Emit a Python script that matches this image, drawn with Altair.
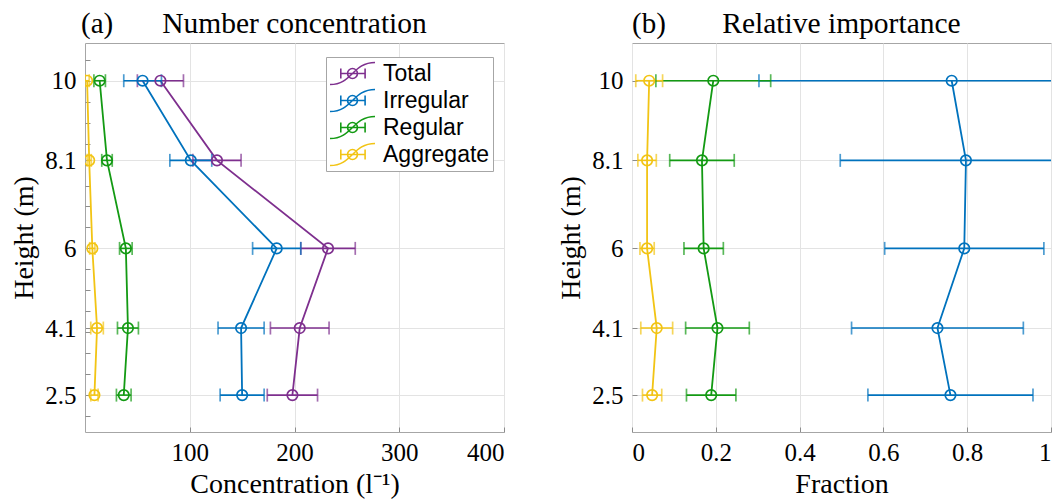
import altair as alt
import pandas as pd

# ---------------- data ----------------
heights = [2.5, 4.1, 6, 8.1, 10]
series = ["Total", "Irregular", "Regular", "Aggregate"]
colors = ["#7E2F8E", "#0072BD", "#139A13", "#F2C414"]

conc_total = [198, 205, 232, 126, 72]
conc_total_err = [24, 28, 26, 23, 22]
conc_irregular = [150, 149, 183, 101, 55]
conc_irregular_err = [21, 22, 23, 20, 18]
conc_regular = [37, 41, 39, 21, 14]
conc_regular_err = [7, 10, 6, 5, 5.5]
conc_aggregate = [9, 11.5, 7, 4, 2]
conc_aggregate_err = [3.5, 6, 2.5, 2, 2]

frac_irregular = [0.760, 0.729, 0.793, 0.797, 0.763]
frac_irregular_err = [0.197, 0.205, 0.190, 0.300, 0.460]
frac_regular = [0.189, 0.204, 0.171, 0.167, 0.194]
frac_regular_err = [0.059, 0.076, 0.047, 0.077, 0.137]
frac_aggregate = [0.048, 0.059, 0.036, 0.036, 0.041]
frac_aggregate_err = [0.023, 0.038, 0.017, 0.022, 0.032]

y_major = [2.5, 4.1, 6, 8.1, 10]
y_minor = [2, 2.5, 3, 3.5, 4, 4.5, 5, 5.5, 6, 6.5, 7, 7.5, 8, 8.5, 9, 9.5, 10, 10.5]
conc_ticks = [100, 200, 300, 400]
frac_ticks = [0, 0.2, 0.4, 0.6, 0.8, 1]

panel_labels = ["(a)", "(b)"]
panel_titles = ["Number concentration", "Relative importance"]
x_titles = ["Concentration (l\u207b\u00b9)", "Fraction"]


def build(rows):
    recs = []
    for name, vals, errs in rows:
        for h, v, e in zip(heights, vals, errs):
            recs.append({"series": name, "height": h, "value": v,
                         "lo": v - e, "hi": v + e})
    return pd.DataFrame(recs)


conc_df = build([
    ("Total", conc_total, conc_total_err),
    ("Irregular", conc_irregular, conc_irregular_err),
    ("Regular", conc_regular, conc_regular_err),
    ("Aggregate", conc_aggregate, conc_aggregate_err),
])
frac_df = build([
    ("Irregular", frac_irregular, frac_irregular_err),
    ("Regular", frac_regular, frac_regular_err),
    ("Aggregate", frac_aggregate, frac_aggregate_err),
])

SERIF = "Liberation Serif"
W1, W2, H = 419, 419, 389

# legend icon: S-curve + error bar + open circle; each closed sub-figure is
# traced forth and back so that any fill encloses zero area
ICON = ("M-1,0.49 C0,0.49 0,-0.49 1,-0.49 C0,-0.49 0,0.49 -1,0.49 "
        "M-0.52,0 L0.56,0 M-0.52,-0.22 L-0.52,0.22 M0.56,-0.22 L0.56,0.22 "
        "M0.22,0 A0.22,0.22 0 1,1 -0.22,0 A0.22,0.22 0 1,1 0.22,0 "
        "A0.22,0.22 0 1,0 -0.22,0 A0.22,0.22 0 1,0 0.22,0")

yscale = alt.Scale(domain=[1.62, 10.9], nice=False, zero=False)
major_test = "indexof([2.5,4.1,6,8.1,10], datum.value) >= 0"


def panel(df, xdomain, xticks, xtitle, plabel, plabel_x, ptitle, width, minor, legend):
    if minor:
        yaxis = alt.Axis(values=y_minor + [4.1, 8.1], title="Height (m)",
                         format=".2~f",
                         labelExpr=f"{major_test} ? datum.label : ''",
                         gridOpacity={"condition": {"test": major_test, "value": 1}, "value": 0})
    else:
        yaxis = alt.Axis(values=y_major, title="Height (m)", format=".2~f")
    xaxis = alt.Axis(values=xticks, title=xtitle, format=".1~f")
    xscale = alt.Scale(domain=xdomain, nice=False, zero=False)
    cscale = alt.Scale(domain=series, range=colors)

    base = alt.Chart(df).encode(
        y=alt.Y("height:Q", scale=yscale, axis=yaxis),
    )
    col_leg = alt.Color("series:N", scale=cscale, legend=legend)
    col = alt.Color("series:N", scale=cscale, legend=None)
    line = base.mark_line(strokeWidth=1.8, clip=True).encode(
        x=alt.X("value:Q", scale=xscale, axis=xaxis), order="height:Q", color=col_leg)
    err = base.mark_rule(strokeWidth=1.6, clip=True).encode(
        x=alt.X("lo:Q", scale=xscale), x2="hi:Q", color=col)
    cap_lo = base.mark_tick(orient="vertical", thickness=1.7, size=13, clip=True).encode(
        x=alt.X("lo:Q", scale=xscale), color=col)
    cap_hi = base.mark_tick(orient="vertical", thickness=1.7, size=13, clip=True).encode(
        x=alt.X("hi:Q", scale=xscale), color=col)
    pts = base.mark_point(shape="circle", filled=False, size=110, strokeWidth=1.7,
                          opacity=1, clip=True).encode(x=alt.X("value:Q", scale=xscale), color=col)

    lab = alt.Chart(pd.DataFrame({"t": [plabel]})).mark_text(
        font=SERIF, fontSize=29, align="left", baseline="alphabetic", color="black"
    ).encode(text="t:N", x=alt.value(plabel_x), y=alt.value(-10))
    ttl = alt.Chart(pd.DataFrame({"t": [ptitle]})).mark_text(
        font=SERIF, fontSize=29.5, align="center", baseline="alphabetic", color="black"
    ).encode(text="t:N", x=alt.value(width / 2), y=alt.value(-10))

    return alt.layer(line, err, cap_lo, cap_hi, pts, lab, ttl).properties(
        width=width, height=H)


legend = alt.Legend(
    title=None, orient="none", legendX=241, legendY=14,
    symbolType=ICON, symbolSize=2025, symbolStrokeWidth=1.6,
    symbolFillColor="transparent", symbolOpacity=1,
    clipHeight=27, rowPadding=0,
    labelFont="Liberation Sans", labelFontSize=23, labelColor="black",
    labelOffset=7, padding=3, strokeColor="#a6a6a6", fillColor="white",
)

left = panel(conc_df, [0, 400], conc_ticks, x_titles[0], panel_labels[0], -4,
             panel_titles[0], W1, True, legend)
right = panel(frac_df, [0, 1], frac_ticks, x_titles[1], panel_labels[1], 0,
              panel_titles[1], W2, False, None)

chart = alt.hconcat(left, right, spacing=52).resolve_scale(color="independent").properties(
    padding={"left": 2, "top": 0, "right": 0, "bottom": 0}
).configure_view(
    stroke="#a6a6a6", strokeWidth=1
).configure_axis(
    domain=False,
    grid=True, gridColor="#e3e3e3", gridWidth=1,
    tickColor="#8c8c8c", tickSize={"expr": "-5"}, tickWidth=1,
    labelFont=SERIF, labelFontSize=25, labelColor="black",
    titleFont=SERIF, titleFontSize=28, titleFontWeight="normal", titleColor="black",
).configure_axisY(
    labelPadding=14, titlePadding=6,
).configure_axisX(
    labelPadding=13, titlePadding=5,
)

chart.save("out.html", embed_options={"renderer": "svg", "actions": False})
